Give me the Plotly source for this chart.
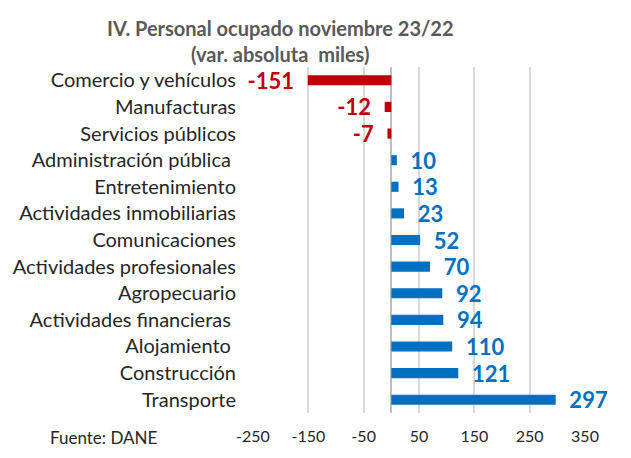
import plotly.graph_objects as go

categories = ["Comercio y vehículos", "Manufacturas", "Servicios públicos",
              "Administración pública ", "Entretenimiento", "Actividades inmobiliarias",
              "Comunicaciones", "Actividades profesionales", "Agropecuario",
              "Actividades financieras ", "Alojamiento ", "Construcción", "Transporte"]
values = [-151, -12, -7, 10, 13, 23, 52, 70, 92, 94, 110, 121, 297]
tick_vals = [-250, -150, -50, 50, 150, 250, 350]

RED = "#C00000"
BLUE = "#0070C0"
colors = [RED if v < 0 else BLUE for v in values]
NB = "\u00a0\u00a0"
labels = [f"{v}{NB}" if v < 0 else f"{NB}{v}" for v in values]

FONT = "Lato, 'Liberation Sans', Arial, sans-serif"

# page body has an 8px margin: figure coords = screen coords - 8
W, H = 615, 442
PL, PR, PT, PB = 253 - 8, 585 - 8, 67 - 8, 413 - 8
PW, PH = PR - PL, PB - PT


def px(xs):
    return (xs - 8 - PL) / PW


def py(ys):
    return (PB - (ys - 8)) / PH


fig = go.Figure(go.Bar(
    x=values, y=categories, orientation="h",
    marker=dict(color=colors, line=dict(width=0)),
    text=labels, textposition="outside", constraintext="none",
    textfont=dict(family=FONT, size=22, color=colors, weight="bold"),
    cliponaxis=False,
))

fig.update_layout(
    width=W, height=H,
    margin=dict(l=PL, r=W - PR, t=PT, b=H - PB, autoexpand=False),
    paper_bgcolor="white", plot_bgcolor="white",
    bargap=0.62, showlegend=False,
    font=dict(family=FONT, color="#262626"),
    xaxis=dict(range=[-250, 350], tickvals=tick_vals, ticktext=[str(t) for t in tick_vals],
               showgrid=True, gridcolor="#D9D9D9", gridwidth=1.5,
               zeroline=True, zerolinecolor="#BFBFBF", zerolinewidth=1.5,
               tickfont=dict(size=16, color="#262626"), ticks="", ticklabelstandoff=12,
               automargin=False, fixedrange=True),
    yaxis=dict(autorange="reversed", showgrid=False, ticks="", ticklabelstandoff=16,
               tickfont=dict(size=20, color="#262626"), automargin=False, fixedrange=True),
    annotations=[
        dict(text="<b>IV. Personal ocupado noviembre 23/22</b>", xref="paper", yref="paper",
             x=px(280), y=py(28), xanchor="center", yanchor="middle", showarrow=False,
             font=dict(size=20, color="#595959")),
        dict(text="<b>(var. absoluta  miles)</b>", xref="paper", yref="paper",
             x=px(280), y=py(54), xanchor="center", yanchor="middle", showarrow=False,
             font=dict(size=20, color="#595959")),
        dict(text="Fuente: DANE", xref="paper", yref="paper",
             x=px(48), y=py(437), xanchor="left", yanchor="middle", showarrow=False,
             font=dict(size=17, color="#262626")),
    ],
)

fig.write_html("out.html")
